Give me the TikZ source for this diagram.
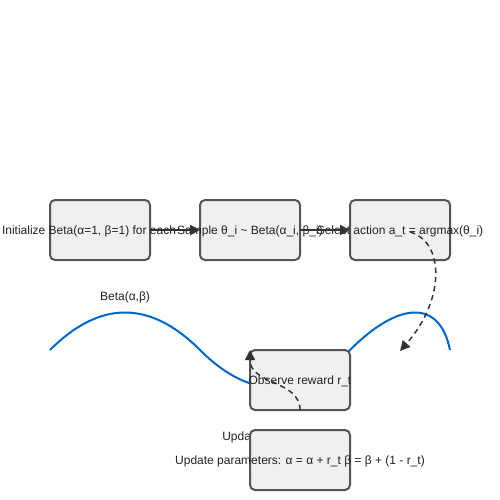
\documentclass[tikz,border=0pt]{standalone}
\usepackage{fontspec}
\setmainfont{Liberation Sans}
\usetikzlibrary{arrows.meta}
\definecolor{boxfill}{HTML}{F0F0F0}
\definecolor{boxline}{HTML}{555555}
\definecolor{arrowc}{HTML}{333333}
\definecolor{curveblue}{HTML}{0066CC}
\definecolor{txt}{HTML}{222222}
\begin{document}
\begin{tikzpicture}[x=0.75pt,y=-0.75pt,
  stepbox/.style={draw=boxline,fill=boxfill,line width=1.5pt,rounded corners=3.75pt,
    minimum width=75pt,minimum height=45pt,inner sep=0pt,outer sep=0pt},
  lbl/.style={inner sep=0pt,text=txt,font=\fontsize{9}{11}\selectfont},
  flow/.style={draw=arrowc,line width=1.5pt,-{Triangle[length=7.5pt,width=7.5pt]}},
  loop/.style={draw=arrowc,line width=1.1pt,dash pattern=on 4pt off 3pt,
    -{Triangle[length=7.5pt,width=7.5pt]}}]
\useasboundingbox (0,0) rectangle (500,500);
% curve
\draw[curveblue,line width=1.5pt] (50,350) .. controls (100,300) and (150,300) .. (200,350)
  .. controls (250,400) and (300,400) .. (350,350)
  .. controls (400,300) and (440,300) .. (450,350);
\node[lbl,anchor=west] (upd) at (222,437) {Update};
\node[lbl] (betalbl) at (125,297) {Beta(α,β)};
% boxes
\node[stepbox] (b1) at (100,230) {};
\node[stepbox] (b2) at (250,230) {};
\node[stepbox] (b3) at (400,230) {};
\node[stepbox] (b4) at (300,380) {};
\node[stepbox] (b5) at (300,460) {};
% texts
\node[lbl] (t1) at ([xshift=-8.25pt,yshift=-0.75pt]b1.center) {Initialize Beta(α=1, β=1) for each};
\node[lbl] (t2) at ([yshift=-0.75pt]b2.center) {Sample θ\_i \textasciitilde{} Beta(α\_i, β\_i)};
\node[lbl] (t3) at ([yshift=-0.75pt]b3.center) {Select action a\_t = argmax(θ\_i)};
\node[lbl] (t4) at ([yshift=-0.75pt]b4.center) {Observe reward r\_t};
\node[lbl] (t5) at ([yshift=-0.75pt]b5.center) {Update parameters: α = α + r\_t β = β + (1 - r\_t)};
% arrows
\draw[flow] (b1.east) -- (b2.west);
\draw[flow] (b2.east) -- (b3.west);
\coordinate (s1) at (410,232);
\coordinate (e1) at (400,351);
\draw[loop] (s1) .. controls (445,242) and (445,300) .. (e1);
\draw[loop] (b4.south) .. controls (300,380) and (250,385) .. (b4.north west);
\end{tikzpicture}
\end{document}
